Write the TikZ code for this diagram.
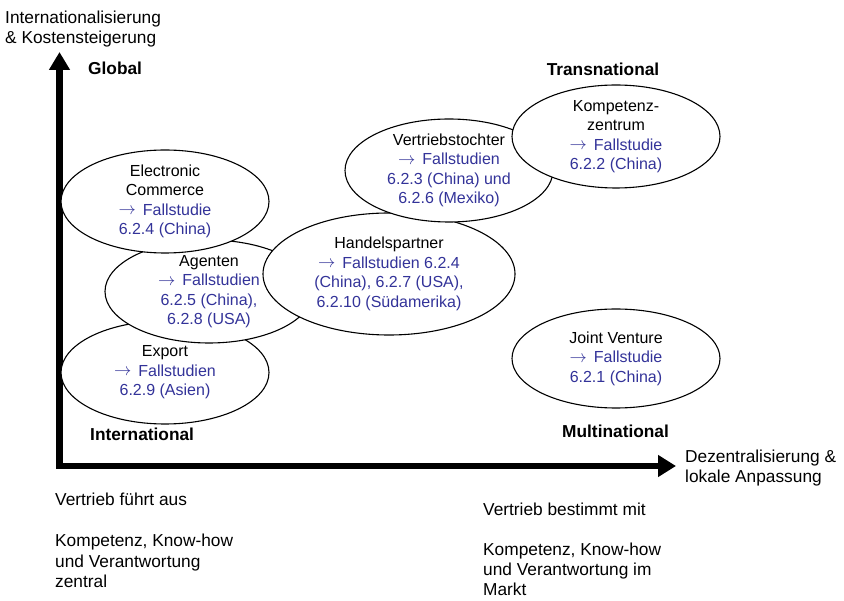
\documentclass[tikz,border=0pt]{standalone}
\usepackage{fontspec}
\setmainfont{Liberation Sans}
\usetikzlibrary{shapes.geometric,arrows.meta}
\definecolor{fsblue}{RGB}{51,51,153}
\newcommand{\fsb}[1]{\textcolor{fsblue}{#1}}
\newcommand{\arrsym}{\raisebox{0.5pt}{$\rightarrow$}\hspace{7pt}}
\begin{document}
\begin{tikzpicture}[x=1pt,y=-1pt,
  ell/.style={ellipse,draw=black,line width=1.1pt,fill=white,minimum width=208pt,minimum height=103pt,inner sep=0pt},
  etxt/.style={align=center,font=\fontsize{16}{19.5}\selectfont,inner sep=0pt},
  otxt/.style={align=left,font=\fontsize{17.3}{20.5}\selectfont,inner sep=0pt,anchor=north west},
  ctitle/.style={font=\bfseries\fontsize{17.3}{20}\selectfont,inner sep=0pt,anchor=base west},
  axisline/.style={line width=6.5pt,line join=miter,{Triangle[length=18pt,width=20pt]}-{Triangle[length=18pt,width=21pt]}}]
\useasboundingbox (0,0) rectangle (844,601);

% axes
\coordinate (Ytip) at (59.5,52);
\coordinate (O) at (59.5,466);
\coordinate (Xtip) at (676,466);
\draw[axisline] (Ytip) -- (O) -- (Xtip);

% axis labels
\node[otxt,font=\fontsize{17.3}{20}\selectfont] (ylab) at (5,10.4) {Internationalisierung\\\& Kostensteigerung};
\node[otxt,font=\fontsize{17.3}{20}\selectfont] (xlab) at (685,449.4) {Dezentralisierung \&\\lokale Anpassung};

% corner titles
\node[ctitle] (global) at (88,75) {Global};
\node[ctitle,anchor=base] (trans) at (603,76) {Transnational};
\node[ctitle] (intl) at (90,441) {International};
\node[ctitle] (multi) at (562,438) {Multinational};

% ellipses
\node[ell] (export) at (165,372.5) {};
\node[etxt] (exportt) at (export) {Export\\\fsb{\arrsym Fallstudien}\\\fsb{6.2.9 (Asien)}};

\node[ell] (agenten) at (209,291.5) {};
\node[etxt] (agentent) at (agenten) {Agenten\\\fsb{\arrsym Fallstudien}\\\fsb{6.2.5 (China),}\\\fsb{6.2.8 (USA)}};

\node[ell] (ec) at (165,201.5) {};
\node[etxt] (ect) at (ec) {Electronic\\Commerce\\\fsb{\arrsym Fallstudie}\\\fsb{6.2.4 (China)}};

\node[ell,minimum width=252pt,minimum height=122pt] (handel) at (389,274) {};
\node[etxt] (handelt) at (handel) {Handelspartner\\\fsb{\arrsym Fallstudien 6.2.4}\\\fsb{(China), 6.2.7 (USA),}\\\fsb{6.2.10 (Südamerika)}};

\node[ell] (vt) at (449,170.5) {};
\node[etxt] (vtt) at (vt) {Vertriebstochter\\\fsb{\arrsym Fallstudien}\\\fsb{6.2.3 (China) und}\\\fsb{6.2.6 (Mexiko)}};

\node[ell] (kz) at (616,136.5) {};
\node[etxt] (kzt) at (kz) {Kompetenz-\\zentrum\\\fsb{\arrsym Fallstudie}\\\fsb{6.2.2 (China)}};

\node[ell,minimum height=99pt] (jv) at (616,358.5) {};
\node[etxt] (jvt) at (jv) {Joint Venture\\\fsb{\arrsym Fallstudie}\\\fsb{6.2.1 (China)}};

% bottom texts
\node[otxt] (leftnote) at (55,492.4) {Vertrieb führt aus\\[21pt]Kompetenz, Know-how\\und Verantwortung\\zentral};
\node[otxt,font=\fontsize{17.3}{20.2}\selectfont] (rightnote) at (483,502.4) {Vertrieb bestimmt mit\\[20pt]Kompetenz, Know-how\\und Verantwortung im\\Markt};
\end{tikzpicture}
\end{document}
